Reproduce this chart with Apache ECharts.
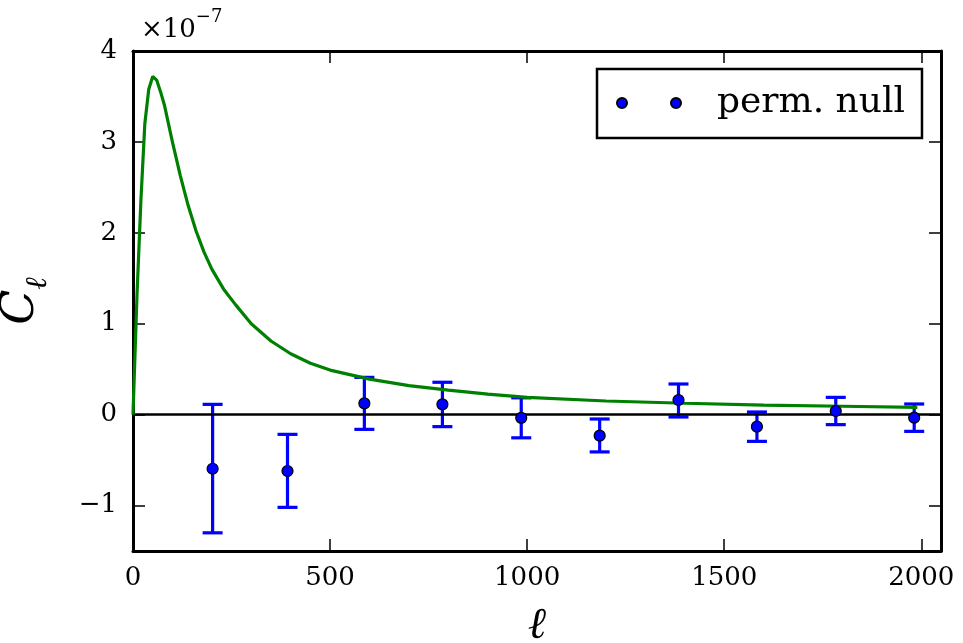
<!DOCTYPE html>
<html>
<head>
<meta charset="utf-8">
<script src="https://cdn.jsdelivr.net/npm/echarts@6/dist/echarts.min.js"></script>
<style>html,body{margin:0;padding:0;background:#fff}#c{width:963px;height:643px}</style>
</head>
<body>
<div id="c"></div>
<script>
// Model curve (units of 1e-7)
const modelEll = [0, 10, 20, 30, 40, 50, 60, 70, 80, 100, 120, 140, 160, 180, 200, 230, 260, 300, 350, 400, 450, 500, 600, 700, 800, 900, 1000, 1200, 1400, 1600, 1800, 1990];
const modelCl  = [0, 1.30, 2.35, 3.20, 3.58, 3.72, 3.68, 3.55, 3.40, 3.00, 2.63, 2.30, 2.02, 1.79, 1.60, 1.38, 1.21, 1.00, 0.81, 0.67, 0.565, 0.49, 0.39, 0.32, 0.27, 0.225, 0.19, 0.15, 0.125, 0.105, 0.092, 0.08];
// Binned permutation null (units of 1e-7)
const binEll = [202, 392, 587, 785, 985, 1184, 1384, 1583, 1783, 1982];
const binCl  = [-0.595, -0.62, 0.124, 0.113, -0.035, -0.231, 0.161, -0.132, 0.04, -0.033];
const binLo  = [-1.30, -1.02, -0.162, -0.132, -0.255, -0.41, -0.026, -0.294, -0.11, -0.184];
const binHi  = [0.113, -0.217, 0.41, 0.356, 0.185, -0.048, 0.337, 0.029, 0.19, 0.117];
const xTicks = [0, 500, 1000, 1500, 2000];
const yTicks = [-1, 0, 1, 2, 3, 4];
const xMin = 0, xMax = 2050, yMin = -1.5, yMax = 4;

const FONT = 'DejaVu Serif';
const chart = echarts.init(document.getElementById('c'), null, {renderer: 'canvas'});
const fmtMinus = v => (v < 0 ? '\u2212' + Math.abs(v) : String(v));
const axisCommon = {
  axisLine: {show: true, onZero: false, lineStyle: {color: '#000', width: 3}},
  axisTick: {show: true, inside: true, length: 12, lineStyle: {color: '#000', width: 1.5}},
  splitLine: {show: false}
};
chart.setOption({
  animation: false,
  backgroundColor: '#fff',
  title: {
    text: '{a|\u00d710}{b|\u22127}',
    left: 141, top: 8, padding: 0,
    textStyle: {
      fontWeight: 'normal',
      rich: {
        a: {fontFamily: FONT, fontSize: 26, fontWeight: 'normal', color: '#000', lineHeight: 44, verticalAlign: 'middle'},
        b: {fontFamily: FONT, fontSize: 18, fontWeight: 'normal', color: '#000', verticalAlign: 'top'}
      }
    }
  },
  grid: {left: 133, right: 22, top: 51, bottom: 92, containLabel: false, outerBoundsMode: 'none'},
  legend: {
    show: true,
    data: ['perm. null'],
    left: 597, top: 69,
    padding: [16, 17, 17, 19],
    borderColor: '#000', borderWidth: 2.5, borderRadius: 0,
    backgroundColor: '#fff',
    icon: 'path://M0,5A5,5,0,1,1,10,5A5,5,0,1,1,0,5ZM54,5A5,5,0,1,1,64,5A5,5,0,1,1,54,5Z',
    itemWidth: 64, itemHeight: 10,
    textStyle: {fontFamily: FONT, fontSize: 36, color: '#000', padding: [0, 0, 0, 31]}
  },
  xAxis: [
    Object.assign({}, axisCommon, {
      type: 'value', position: 'bottom', min: xMin, max: xMax,
      axisTick: Object.assign({}, axisCommon.axisTick, {customValues: xTicks}),
      axisLabel: {customValues: xTicks, formatter: v => String(v), fontFamily: FONT, fontSize: 26, color: '#000', margin: 14},
      name: '\u2113', nameLocation: 'middle', nameGap: 54,
      nameTextStyle: {fontFamily: FONT, fontStyle: 'italic', fontSize: 44, color: '#000'}
    }),
    Object.assign({}, axisCommon, {
      type: 'value', position: 'top', min: xMin, max: xMax,
      axisTick: Object.assign({}, axisCommon.axisTick, {customValues: xTicks}),
      axisLabel: {show: false}
    })
  ],
  yAxis: [
    Object.assign({}, axisCommon, {
      type: 'value', position: 'left', min: yMin, max: yMax,
      axisTick: Object.assign({}, axisCommon.axisTick, {customValues: yTicks}),
      axisLabel: {customValues: yTicks, formatter: fmtMinus, fontFamily: FONT, fontSize: 26, color: '#000', margin: 16},
      name: '{c|C}{s|\u2113}', nameLocation: 'middle', nameRotate: 90, nameGap: 80,
      nameTextStyle: {
        rich: {
          c: {fontFamily: FONT, fontStyle: 'italic', fontSize: 46, color: '#000', lineHeight: 64, verticalAlign: 'middle'},
          s: {fontFamily: FONT, fontStyle: 'italic', fontSize: 30, color: '#000', verticalAlign: 'bottom'}
        }
      }
    }),
    Object.assign({}, axisCommon, {
      type: 'value', position: 'right', min: yMin, max: yMax,
      axisTick: Object.assign({}, axisCommon.axisTick, {customValues: yTicks}),
      axisLabel: {show: false}
    })
  ],
  series: [
    {
      name: 'errorbars', type: 'custom', xAxisIndex: 0, yAxisIndex: 0, z: 2,
      data: binEll.map((x, i) => [x, binLo[i], binHi[i]]),
      renderItem: function (params, api) {
        const x = api.value(0);
        const pLo = api.coord([x, api.value(1)]);
        const pHi = api.coord([x, api.value(2)]);
        const hw = 10;
        const st = {stroke: '#0000ff', lineWidth: 3.2};
        return {
          type: 'group',
          children: [
            {type: 'line', shape: {x1: pLo[0], y1: pLo[1], x2: pHi[0], y2: pHi[1]}, style: st},
            {type: 'line', shape: {x1: pLo[0] - hw, y1: pLo[1], x2: pLo[0] + hw, y2: pLo[1]}, style: st},
            {type: 'line', shape: {x1: pHi[0] - hw, y1: pHi[1], x2: pHi[0] + hw, y2: pHi[1]}, style: st}
          ]
        };
      },
      silent: true
    },
    {
      name: 'model', type: 'line', z: 4, symbol: 'none', smooth: false,
      data: modelEll.map((x, i) => [x, modelCl[i]]),
      lineStyle: {color: '#008000', width: 3.2},
      markLine: {
        silent: true, symbol: ['none', 'none'], label: {show: false},
        lineStyle: {color: '#000', width: 2.5, type: 'solid'},
        data: [{yAxis: 0}], z: 3
      }
    },
    {
      name: 'perm. null', type: 'scatter', z: 5,
      symbol: 'circle', symbolSize: 11,
      data: binEll.map((x, i) => [x, binCl[i]]),
      itemStyle: {color: '#0000ff', borderColor: '#000', borderWidth: 1.2, opacity: 1}
    }
  ]
});
</script>
</body>
</html>
